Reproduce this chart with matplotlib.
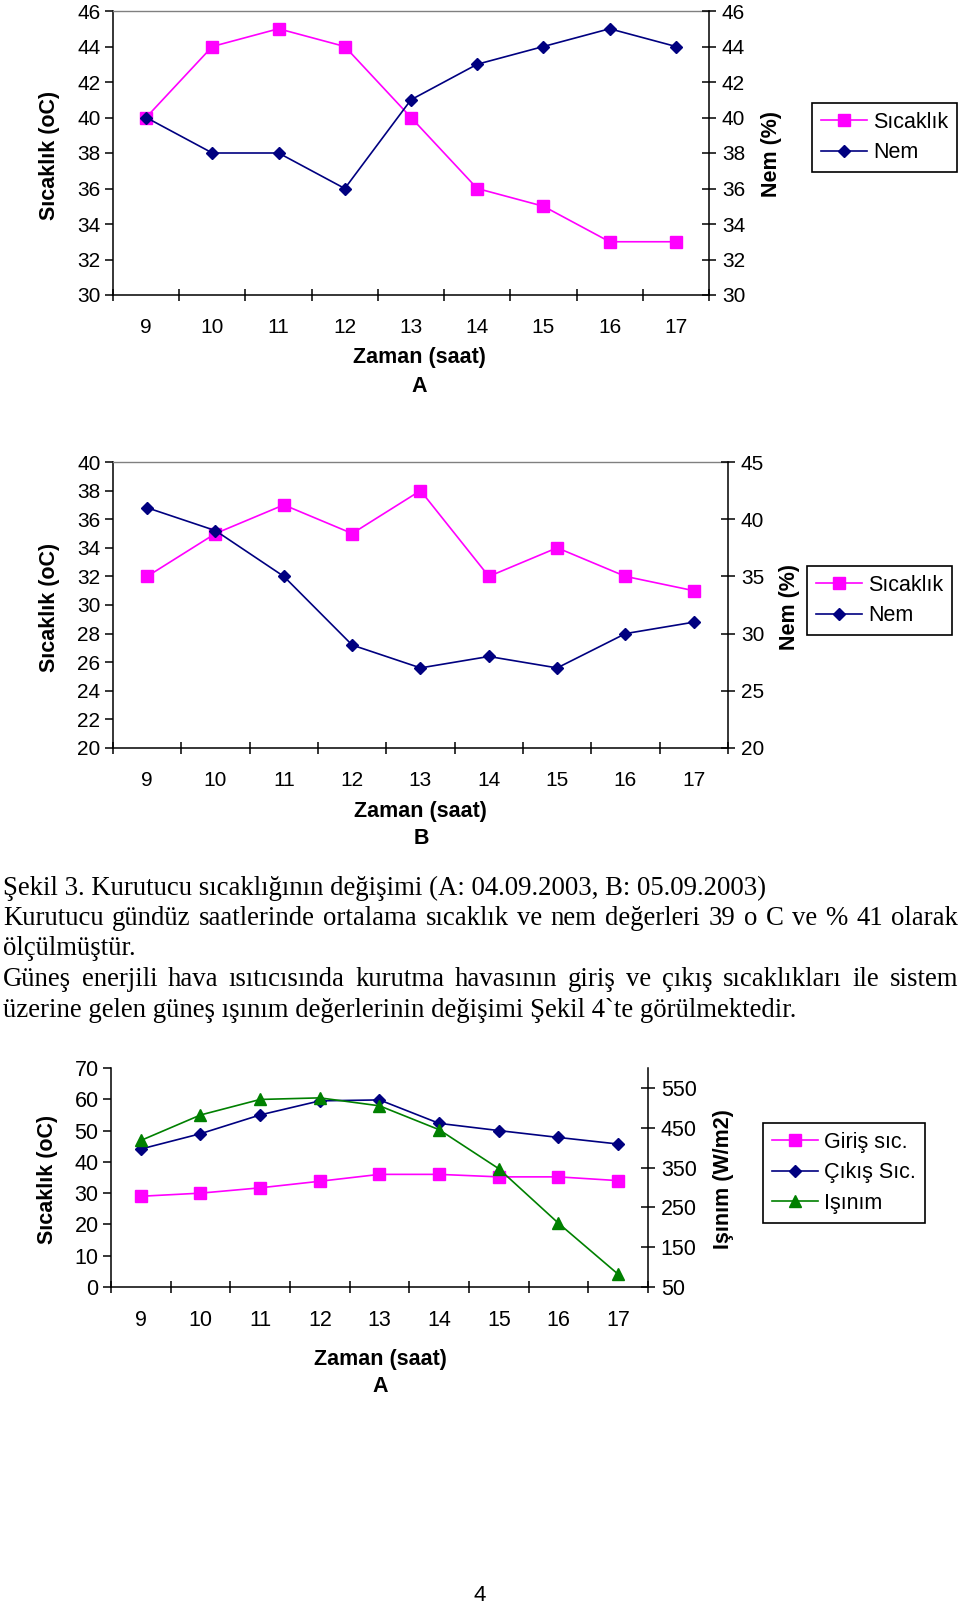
"""
Sekil 3 / Sekil 4 - kurutucu sicaklik, nem ve isinim grafikleri
Sayfa gorunumu: iki ustte grafik, metin paragrafi, altta giris/cikis/isinim grafigi.
Cikti: out.png
"""
import matplotlib; matplotlib.use("Agg")
import matplotlib.pyplot as plt

W, H = 960, 1604
SAAT = [9, 10, 11, 12, 13, 14, 15, 16, 17]

# A: 04.09.2003
A_SICAKLIK = [40, 44, 45, 44, 40, 36, 35, 33, 33]
A_NEM = [40, 38, 38, 36, 41, 43, 44, 45, 44]
# B: 05.09.2003
B_SICAKLIK = [32, 35, 37, 35, 38, 32, 34, 32, 31]
B_NEM = [41, 39, 35, 29, 27, 28, 27, 30, 31]
# Sekil 4 A
C_GIRIS = [29, 30, 31.7, 33.8, 36, 36, 35.2, 35.2, 34]
C_CIKIS = [44.1, 49, 55, 59.5, 59.8, 52.3, 50, 47.8, 45.7]
C_ISINIM = [418, 482, 521, 525, 505, 445, 347, 210, 82]

A_SOL_TICK = list(range(30, 47, 2)); A_SAG_TICK = list(range(30, 47, 2))
B_SOL_TICK = list(range(20, 41, 2)); B_SAG_TICK = list(range(20, 46, 5))
C_SOL_TICK = list(range(0, 71, 10)); C_SAG_TICK = list(range(50, 551, 100))

PEMBE = "#FF00FF"; LACI = "#000080"; YESIL = "#008000"
SANS = "Liberation Sans"; SERIF = "Liberation Serif"

METIN = [("Şekil 3. Kurutucu sıcaklığının değişimi (A: 04.09.2003, B: 05.09.2003)", False),
         ("Kurutucu gündüz saatlerinde ortalama sıcaklık ve nem değerleri  39 o C ve % 41 olarak", True),
         ("ölçülmüştür.", False),
         ("Güneş enerjili hava ısıtıcısında kurutma havasının giriş ve çıkış sıcaklıkları ile sistem", True),
         ("üzerine gelen güneş ışınım değerlerinin değişimi Şekil 4`te görülmektedir.", False)]
SATIR_Y = [895, 925, 955, 986, 1017]

plt.rcParams["font.family"] = SANS
fig = plt.figure(figsize=(W/100, H/100), dpi=100)


def px(x, y):
    return x / W, 1 - y / H


def eksen(l, t, r, b):
    return fig.add_axes([l/W, 1-b/H, (r-l)/W, (b-t)/H])


def cizgi(ax, y, renk, m, ms, etiket):
    return ax.plot(SAAT, y, color=renk, marker=m, ms=ms, mfc=renk, mec=renk,
                   lw=1.2, label=etiket, clip_on=False)[0]


def stil(ax, ax2, lim1, t1, lim2, t2, ust, fs):
    ax.set_xlim(SAAT[0]-0.5, SAAT[-1]+0.5)
    ax.set_xticks([s-0.5 for s in SAAT] + [SAAT[-1]+0.5], labels=[])
    ax.set_xticks(SAAT, labels=[str(s) for s in SAAT], minor=True)
    ax.tick_params(axis="x", which="major", direction="inout", length=9, width=1.1)
    ax.tick_params(axis="x", which="minor", length=0, pad=16.5, labelsize=fs)
    ax.set_ylim(*lim1); ax.set_yticks(t1)
    ax.tick_params(axis="y", direction="out", length=5.5, width=1.1, pad=3.5, labelsize=fs)
    ax2.set_ylim(*lim2); ax2.set_yticks(t2)
    ax2.tick_params(axis="y", direction="inout", length=9.5, width=1.1, pad=4.5, labelsize=fs)
    for a in (ax, ax2):
        for s in a.spines.values():
            s.set_linewidth(1.1)
    ax.spines["right"].set_visible(False)
    ax2.spines["left"].set_visible(False)
    ax2.spines["bottom"].set_visible(False)
    if ust:
        ax.spines["top"].set_color("#808080"); ax.spines["top"].set_linewidth(1)
    else:
        ax.spines["top"].set_visible(False)
    ax2.spines["top"].set_visible(False)


def lejant(handles, x, y):
    lg = fig.legend(handles=handles, loc="upper left", bbox_to_anchor=px(x, y),
                    bbox_transform=fig.transFigure, fontsize=15.5, frameon=True,
                    fancybox=False, edgecolor="black", framealpha=1, borderpad=0.4,
                    handlelength=2.15, handletextpad=0.3, labelspacing=0.45, borderaxespad=0)
    lg.get_frame().set_linewidth(1.2)


def baslik(x, y, s, rot=0, fs=15.5):
    fig.text(*px(x, y), s, ha="center", va="center", rotation=rot, fontsize=fs, fontweight="bold")


# --- Grafik A
ax = eksen(113, 11, 709, 295); ax2 = ax.twinx()
h1 = cizgi(ax, A_SICAKLIK, PEMBE, "s", 8.5, "Sıcaklık")
h2 = cizgi(ax2, A_NEM, LACI, "D", 6.5, "Nem")
stil(ax, ax2, (30, 46), A_SOL_TICK, (30, 46), A_SAG_TICK, True, 15)
lejant([h1, h2], 812, 103)
baslik(49, 155, "Sıcaklık (oC)", 90); baslik(772, 154, "Nem (%)", 90)
baslik(419, 358, "Zaman (saat)"); baslik(419, 387, "A")

# --- Grafik B
ax = eksen(113, 462, 728, 748); ax2 = ax.twinx()
h1 = cizgi(ax, B_SICAKLIK, PEMBE, "s", 8.5, "Sıcaklık")
h2 = cizgi(ax2, B_NEM, LACI, "D", 6.5, "Nem")
stil(ax, ax2, (20, 40), B_SOL_TICK, (20, 45), B_SAG_TICK, True, 15)
lejant([h1, h2], 807, 566)
baslik(49, 607, "Sıcaklık (oC)", 90); baslik(790, 607, "Nem (%)", 90)
baslik(420, 811, "Zaman (saat)"); baslik(421, 839, "B")

# --- Grafik C (Sekil 4 A)
ax = eksen(111, 1068, 648, 1287); ax2 = ax.twinx()
h1 = cizgi(ax, C_GIRIS, PEMBE, "s", 8.5, "Giriş sıc.")
h2 = cizgi(ax, C_CIKIS, LACI, "D", 6.5, "Çıkış Sıc.")
h3 = cizgi(ax2, C_ISINIM, YESIL, "^", 9, "Işınım")
stil(ax, ax2, (0, 70), C_SOL_TICK, (50, 600), C_SAG_TICK, False, 15.5)
lejant([h1, h2, h3], 763, 1123)
baslik(47, 1179, "Sıcaklık (oC)", 90); baslik(723, 1179, "Işınım (W/m2)", 90)
baslik(380, 1359, "Zaman (saat)"); baslik(380, 1387, "A")

# --- sayfa metni (iki satir iki yana yasli)
X0, X1 = 3, 958
r = fig.canvas.get_renderer()
kw = dict(fontfamily=SERIF, fontsize=19.3, va="baseline")
for (metin, yasla), y in zip(METIN, SATIR_Y):
    if not yasla:
        fig.text(*px(X0, y), metin, **kw); continue
    ts = [fig.text(*px(X0, y), k, **kw) for k in metin.split()]
    gen = [t.get_window_extent(renderer=r).width for t in ts]
    bosluk = (X1 - X0 - sum(gen)) / (len(ts) - 1)
    x = X0
    for t, g in zip(ts, gen):
        t.set_x(x / W); x += g + bosluk

fig.text(*px(480, 1601), "4", ha="center", va="baseline", fontsize=16)

fig.savefig("out.png", dpi=100)
plt.close(fig)
